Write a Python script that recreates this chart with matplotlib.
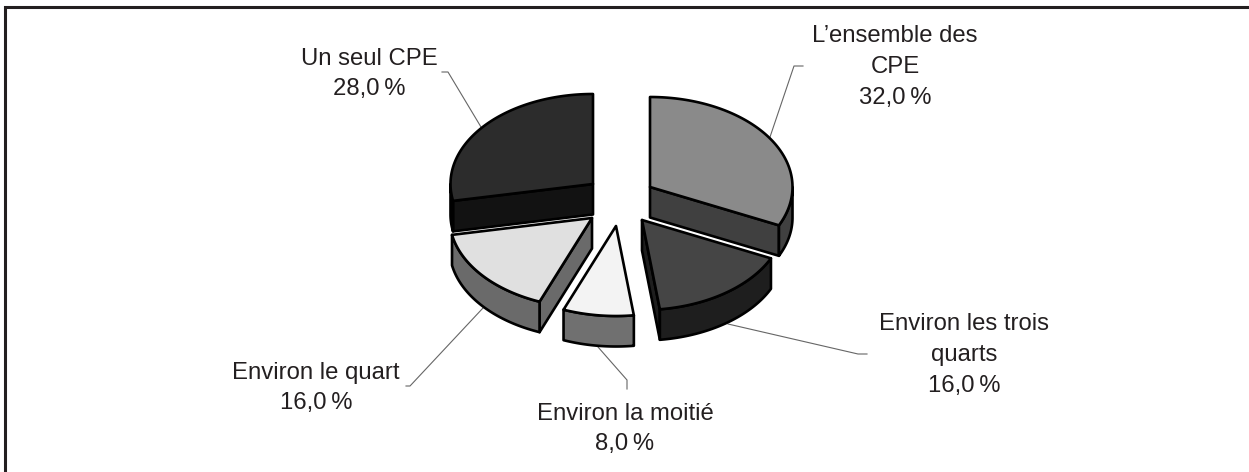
import numpy as np
import matplotlib
matplotlib.use("Agg")
import matplotlib.pyplot as plt
from matplotlib.patches import Polygon

# Data
categories = ["L\u2019ensemble des\nCPE", "Environ les trois\nquarts", "Environ la moiti\u00e9",
              "Environ le quart", "Un seul CPE"]
values = [32.0, 16.0, 8.0, 16.0, 28.0]

# Style / layout
top_colors = ["#8a8a8a", "#454545", "#f3f3f3", "#e0e0e0", "#2c2c2c"]
side_colors = ["#404040", "#1e1e1e", "#707070", "#6a6a6a", "#121212"]
slice_centers = [(650, 187), (642, 220), (616, 226), (592, 218), (593, 184)]
rx, ry, depth = 142.5, 90.0, 30.5
label_xy = [(895, 67), (964, 355), (625, 429), (316, 388), (369, 74)]
leaders = [
    [(803, 66), (794, 66), (770, 137)],
    [(728, 324), (858, 354), (867, 354)],
    [(598, 347), (627, 380), (627, 389)],
    [(483, 308), (410, 386), (406, 386)],
    [(442, 72), (448, 72), (481, 127)],
]
TXT = "#231f20"
LW = 1.9

W, H = 1249, 472
fig = plt.figure(figsize=(W / 100, H / 100), dpi=100)
ax = fig.add_axes([0, 0, 1, 1])
ax.set_xlim(0, W)
ax.set_ylim(H, 0)
ax.axis("off")
plt.rcParams["font.family"] = ["Liberation Sans", "DejaVu Sans"]

# Frame (top and left only)
ax.plot([5.5, 5.5, W], [H, 6.5, 6.5], color="#231f20", lw=2.2, solid_joinstyle="miter")


def pt(c, deg):
    t = np.radians(deg)
    return c[0] + rx * np.sin(t), c[1] - ry * np.cos(t)


def wall(pts, color, z):
    pts = np.asarray(pts)
    low = pts + [0, depth]
    ax.add_patch(Polygon(np.vstack([pts, low[::-1]]), closed=True, fc=color, ec="black",
                         lw=LW, joinstyle="round", zorder=z))


edges = np.concatenate([[0], np.cumsum(values)]) * 360 / sum(values)
order = [0, 4, 3, 1, 2]
for rank, i in enumerate(order):
    a0, a1 = edges[i], edges[i + 1]
    c = slice_centers[i]
    z = 2 + rank
    if np.sin(np.radians(a0)) < 0:          # start face looks toward the viewer
        wall([c, pt(c, a0)], side_colors[i], z)
    if np.sin(np.radians(a1)) > 1e-6:       # end face looks toward the viewer
        wall([c, pt(c, a1)], side_colors[i], z)
    v0, v1 = max(a0, 90), min(a1, 270)
    if v1 > v0:
        th = np.linspace(v0, v1, 60)
        wall(np.column_stack(pt(c, th)), side_colors[i], z)
    th = np.linspace(a0, a1, 120)
    arc = np.column_stack(pt(c, th))
    ax.add_patch(Polygon(np.vstack([[c], arc]), closed=True, fc=top_colors[i], ec="black",
                         lw=LW, joinstyle="round", zorder=z + 0.5))

# Leaders
for path in leaders:
    xs, ys = zip(*path)
    ax.plot(xs, ys, color="#666666", lw=0.8, zorder=1)

# Labels
for cat, v, (x, y) in zip(categories, values, label_xy):
    val = f"{v:.1f}".replace(".", ",") + "\u2009%"
    ax.text(x, y, f"{cat}\n{val}", ha="center", va="center",
            multialignment="center", fontsize=17.2, color=TXT, linespacing=1.52,
            family=["Liberation Sans", "DejaVu Sans"])

fig.savefig("out.png", dpi=100)
